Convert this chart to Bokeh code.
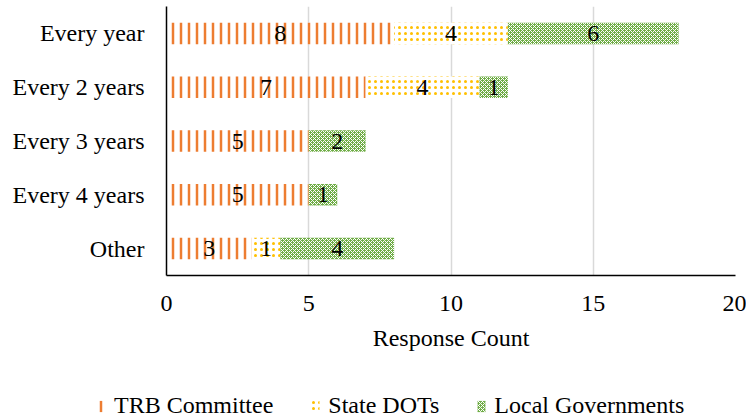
from bokeh.plotting import figure
from bokeh.layouts import column
from bokeh.models import Range1d, Legend, LegendItem, ColumnDataSource, FixedTicker
from bokeh.core.properties import value
from bokeh.embed import file_html
from bokeh.resources import INLINE

categories = ["Every year", "Every 2 years", "Every 3 years", "Every 4 years", "Other"]
trb = [8, 7, 5, 5, 3]
dots = [4, 4, 0, 0, 1]
local = [6, 1, 2, 1, 4]
series_names = ["TRB Committee", "State DOTs", "Local Governments"]
x_ticks = [0, 5, 10, 15, 20]

FONT = "Liberation Serif"
FS = "24px"

fills = ["white", "white", "#70AD47"]
hatches = ["|", ".", "x"]
hatch_colors = ["#ED7D31", "#FFC000", "white"]
hatch_scales = [8, 6, 4]
hatch_weights = [2.5, 1.5, 1]

p = figure(width=746, height=372, y_range=list(reversed(categories)),
           x_range=Range1d(0, 20), output_backend="svg", toolbar_location=None,
           min_border_left=166, min_border_right=11, min_border_top=6, min_border_bottom=97)
p.outline_line_color = None

src = ColumnDataSource(dict(cat=categories, trb=trb, dots=dots, local=local))

r = p.hbar_stack(["trb", "dots", "local"], y="cat", height=0.4, source=src,
                 fill_color=fills, line_color=None, hatch_pattern=hatches,
                 hatch_color=hatch_colors, hatch_scale=hatch_scales,
                 hatch_weight=hatch_weights)

# value labels in segment centres
lx, ly, lt = [], [], []
for i, c in enumerate(categories):
    left = 0
    for v in (trb[i], dots[i], local[i]):
        if v:
            lx.append(left + v / 2)
            ly.append(c)
            lt.append(str(v))
        left += v
p.text(x=lx, y=ly, text=lt, text_align="center", text_baseline="middle",
       text_font=value(FONT), text_font_size=FS, text_color="black")

p.xaxis.ticker = FixedTicker(ticks=x_ticks)
p.xaxis.axis_label = "Response Count"
for ax in (p.xaxis[0], p.yaxis[0]):
    ax.major_label_text_font = FONT
    ax.major_label_text_font_size = FS
    ax.major_label_text_color = "black"
    ax.axis_label_text_font = FONT
    ax.axis_label_text_font_size = FS
    ax.axis_label_text_font_style = "normal"
    ax.axis_label_text_color = "black"
    ax.major_tick_line_color = None
    ax.minor_tick_line_color = None
    ax.major_tick_out = 0
    ax.major_tick_in = 0
    ax.axis_line_color = "black"
    ax.axis_line_width = 1.5
p.xaxis.major_label_standoff = 20
p.xaxis.axis_label_standoff = 11
p.yaxis.major_label_standoff = 22

p.xgrid.grid_line_color = "#D9D9D9"
p.xgrid.grid_line_width = 1.5
p.ygrid.grid_line_color = None

# legend strip below the chart (hidden copies of the series supply the legend swatches)
p2 = figure(width=746, height=47, x_range=Range1d(0, 20), y_range=list(reversed(categories)),
            x_axis_type=None, y_axis_type=None, output_backend="svg",
            toolbar_location=None, min_border=0)
p2.outline_line_color = None
p2.grid.visible = False
for fig in (p, p2):
    try:
        fig.frame_align = False
    except Exception:
        pass
r2 = p2.hbar_stack(["trb", "dots", "local"], y="cat", height=0.4, source=src,
                   fill_color=fills, line_color=None, hatch_pattern=hatches,
                   hatch_color=hatch_colors, hatch_scale=hatch_scales,
                   hatch_weight=hatch_weights, visible=False)
legend = Legend(items=[LegendItem(label=n, renderers=[rr]) for n, rr in zip(series_names, r2)],
                orientation="horizontal", location=(96, 0),
                label_text_font=FONT, label_text_font_size=FS, label_text_color="black",
                glyph_width=10, glyph_height=14, label_standoff=8, spacing=37,
                padding=0, margin=0, border_line_color=None, background_fill_alpha=0,
                inactive_fill_alpha=0)
p2.add_layout(legend, "center")

open("out.html", "w").write(file_html(column(p, p2, spacing=0), INLINE))
